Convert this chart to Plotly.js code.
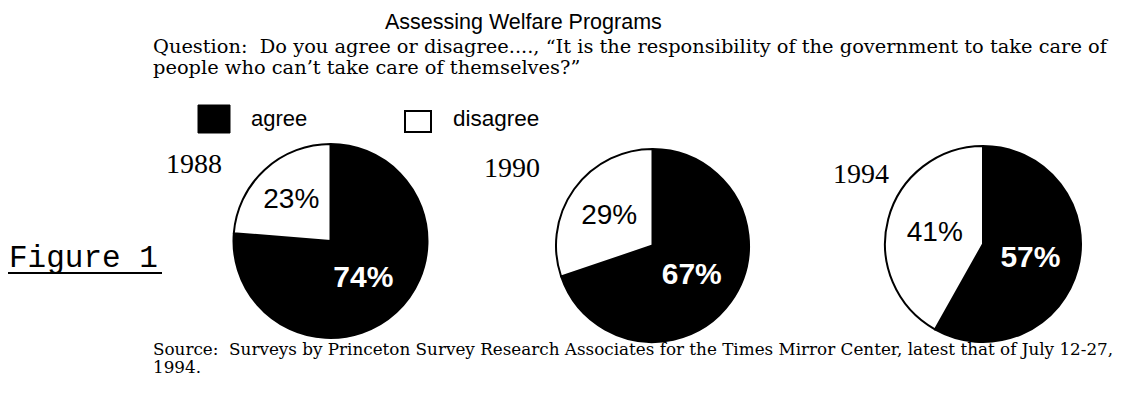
<!DOCTYPE html>
<html>
<head>
<meta charset="utf-8">
<script src="https://cdn.plot.ly/plotly-3.0.1.min.js"></script>
<style>html,body{margin:0;padding:0;background:#fff;}#chart{width:1127px;height:394px;}</style>
</head>
<body>
<div id="chart"></div>
<script>
// ---- data ----
const years = ['1988', '1990', '1994'];
const responses = ['agree', 'disagree'];
const agree = [74, 67, 57];
const disagree = [23, 29, 41];
const chartTitle = 'Assessing Welfare Programs';
const questionLines = [
  'Question:\u00a0 Do you agree or disagree...., \u201cIt is the responsibility of the government to take care of',
  'people who can\u2019t take care of themselves?\u201d'
];
const sourceLines = [
  'Source:\u00a0 Surveys by Princeton Survey Research Associates for the Times Mirror Center, latest that of July 12-27,',
  '1994.'
];
const figureLabel = 'Figure 1';

// ---- layout helpers (pixel -> paper) ----
const W = 1127, H = 394;
const px = x => x / W;
const py = y => 1 - y / H;

const pieBoxes = [
  {x0: 232, x1: 429, y0: 144, y1: 338},
  {x0: 556, x1: 749, y0: 148, y1: 343},
  {x0: 883, x1: 1083, y0: 146, y1: 342}
];
const yearPos = [{x: 165, y: 163}, {x: 483, y: 168}, {x: 832, y: 173}];

const SANS = 'Liberation Sans, Arial, sans-serif';
const SERIF = 'Liberation Serif, Times New Roman, serif';
const TEXTSERIF = 'DejaVu Serif, Liberation Serif, serif';
const MONO = 'Liberation Mono, Courier New, monospace';

const traces = years.map((yr, i) => ({
  type: 'pie',
  name: yr,
  labels: responses,
  values: [agree[i], disagree[i]],
  sort: false,
  direction: 'counterclockwise',
  rotation: 0,
  marker: {colors: ['#000000', '#ffffff'], line: {color: '#000000', width: 2}},
  textinfo: 'text',
  texttemplate: ['<b>%{value}%</b>', '%{value}%'],
  textposition: 'inside',
  insidetextorientation: 'horizontal',
  insidetextfont: {family: SANS, color: ['#ffffff', '#000000'], size: [30, 28]},
  hoverinfo: 'label+value',
  showlegend: false,
  domain: {x: [px(pieBoxes[i].x0), px(pieBoxes[i].x1)], y: [py(pieBoxes[i].y1), py(pieBoxes[i].y0)]}
}));

const ann = [];
function addText(text, x, y, font, xanchor) {
  ann.push({text: text, x: px(x), y: py(y), xref: 'paper', yref: 'paper',
    xanchor: xanchor || 'left', yanchor: 'middle', showarrow: false, font: font, borderpad: 0});
}
addText(chartTitle, 523, 22, {family: SANS, size: 21.5, color: '#000'}, 'center');
addText(questionLines[0], 152, 46, {family: TEXTSERIF, size: 19.4, color: '#000'});
addText(questionLines[1], 152, 68, {family: TEXTSERIF, size: 19.4, color: '#000'});
addText(responses[0], 250, 118, {family: SANS, size: 22, color: '#000'});
addText(responses[1], 452, 118, {family: SANS, size: 22.5, color: '#000'});
years.forEach((yr, i) => addText(yr, yearPos[i].x, yearPos[i].y, {family: SERIF, size: 28, color: '#000'}));
addText(figureLabel, 8, 258, {family: MONO, size: 31, color: '#000'});
addText(sourceLines[0], 152, 349, {family: TEXTSERIF, size: 16.8, color: '#000'});
addText(sourceLines[1], 152, 367, {family: TEXTSERIF, size: 16.8, color: '#000'});

const shapes = [
  {type: 'rect', xref: 'paper', yref: 'paper', x0: px(198), x1: px(230), y0: py(133), y1: py(105),
   fillcolor: '#000', line: {color: '#000', width: 1}},
  {type: 'rect', xref: 'paper', yref: 'paper', x0: px(405), x1: px(431), y0: py(132), y1: py(111),
   fillcolor: '#fff', line: {color: '#000', width: 2}},
  {type: 'line', xref: 'paper', yref: 'paper', x0: px(8), x1: px(162), y0: py(273), y1: py(273),
   line: {color: '#000', width: 2}}
];

const layout = {
  width: W, height: H,
  margin: {l: 0, r: 0, t: 0, b: 0},
  paper_bgcolor: '#fff', plot_bgcolor: '#fff',
  showlegend: false,
  annotations: ann,
  shapes: shapes
};

Plotly.newPlot('chart', traces, layout, {displayModeBar: false, staticPlot: true});
</script>
</body>
</html>
